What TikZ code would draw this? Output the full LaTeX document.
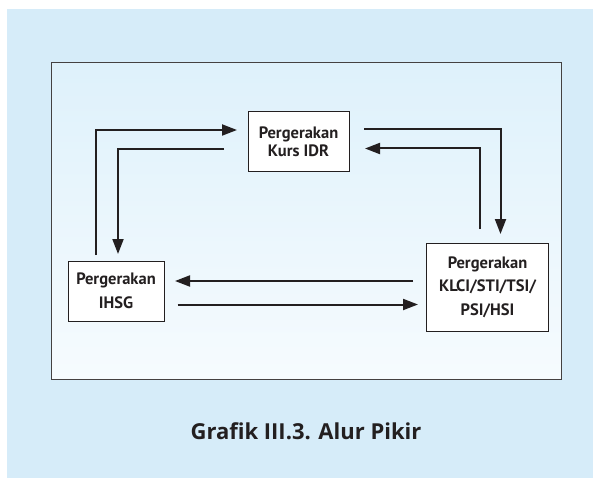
\documentclass[tikz,border=0pt]{standalone}
\usepackage{fontspec}
\setmainfont{PT Sans}
\newfontfamily\capfont{Open Sans}
\usetikzlibrary{arrows.meta}
\definecolor{outerbg}{RGB}{214,236,249}
\definecolor{paneltop}{RGB}{222,241,251}
\definecolor{panelbot}{RGB}{246,251,254}
\definecolor{ink}{RGB}{35,31,32}
\begin{document}
\begin{tikzpicture}[x=1pt,y=-1pt,
  box/.style={draw=ink,line width=1pt,fill=white,inner sep=0pt,align=center,
    font=\fontsize{16.5}{23.5}\selectfont\bfseries,text=ink},
  flow/.style={draw=ink,line width=2pt,-{Triangle[length=15pt,width=11pt]}}]
\useasboundingbox (0,0) rectangle (593,478);
\fill[white] (0,0) rectangle (593,478);
\fill[outerbg] (7,9.5) rectangle (593,478);
\shade[top color=paneltop,bottom color=panelbot,draw=ink!85,line width=1pt]
  (51,62.5) rectangle (561,379);
\node[box,minimum width=101pt,minimum height=60pt] (kurs) at (298.5,142)
  {Pergerakan\\[-5.5pt]Kurs IDR};
\node[box,minimum width=96pt,minimum height=60pt] (ihsg) at (116,291)
  {Pergerakan\\IHSG};
\node[box,minimum width=121.5pt,minimum height=88pt] (klci) at (487.5,287)
  {Pergerakan\\KLCI/STI/TSI/\\PSI/HSI};
\coordinate (a1s) at (96,255);
\coordinate (a1e) at (237,130);
\coordinate (a2s) at (224,149);
\coordinate (a2e) at (118,254);
\coordinate (a3s) at (364,129.5);
\coordinate (a3e) at (500.5,234);
\coordinate (a4s) at (479.5,229);
\coordinate (a4e) at (365,148.5);
\coordinate (a5s) at (413,281);
\coordinate (a5e) at (175,281);
\coordinate (a6s) at (177.5,304.5);
\coordinate (a6e) at (418,304.5);
\draw[flow] (a1s) |- (a1e);
\draw[flow] (a2s) -| (a2e);
\draw[flow] (a3s) -| (a3e);
\draw[flow] (a4s) |- (a4e);
\draw[flow] (a5s) -- (a5e);
\draw[flow] (a6s) -- (a6e);
\node[font=\capfont\fontsize{22}{26}\selectfont\bfseries,text=ink] (cap) at (306,431.5)
  {Grafik III.3. Alur Pikir};
\end{tikzpicture}
\end{document}
